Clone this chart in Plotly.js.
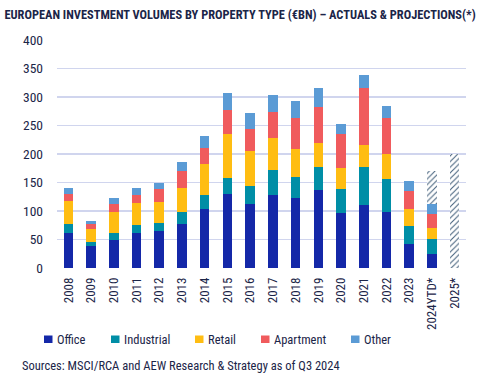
<!DOCTYPE html>
<html><head><meta charset="utf-8">
<script src="https://cdn.plot.ly/plotly-3.0.1.min.js"></script>
<style>html,body{margin:0;padding:0;background:#fff}#chart{width:489px;height:382px}</style>
</head><body><div id="chart"></div>
<script>
const years = ["2008","2009","2010","2011","2012","2013","2014","2015","2016","2017","2018","2019","2020","2021","2022","2023","2024YTD*","2025*"];
const office     = [61,39,50,61,65,77,103,130,112,128,123,137,96,110,98,42,24.5,null];
const industrial = [16,7,12,14,14,21,25,28,32,44,37,40,42,68,58,31.5,26,null];
const retail     = [40.5,23,36,39,37,42,54,77,61,56,49,42,37,37,44,30,19,null];
const apartment  = [13,9,15,14,22,30,28,43,38,46,55,63,60,100,63,32,26,null];
const other      = [9.5,5,10,12,12,16,21,29,29,29,29,33,17,24,21,17.5,16,null];
const projection = [null,null,null,null,null,null,null,null,null,null,null,null,null,null,null,null,58,200];
const seriesNames  = ["Office","Industrial","Retail","Apartment","Other"];
const seriesColors = ["#1428a8","#008ea6","#ffbd12","#f05b5d","#5b9bd5"];
const seriesValues = [office, industrial, retail, apartment, other];

const FONT = "'Roboto Condensed', 'Roboto', sans-serif";
const NAVY = "#1b2548";
// plot area in pixels: left 57, right 466, top 40, bottom 268
const PL = 57, PW = 409, PB = 268, PH = 228;
const px = v => (v - PL) / PW;
const py = v => (PB - v) / PH;

const data = seriesNames.map((n, i) => ({
  type:'bar', name:n, x:years, y:seriesValues[i], showlegend:false, hoverinfo:'skip',
  marker:{color:seriesColors[i], line:{width:0}}
}));
data.push({type:'bar', name:'Projection', x:years, y:projection, showlegend:false, hoverinfo:'skip',
  marker:{color:'#ffffff', line:{width:0}, pattern:{shape:'/', fgcolor:'#4a6680', bgcolor:'#ffffff', size:4, solidity:0.28}}});

// custom legend to match spacing of the original
const legendMarkerX = [44, 111, 195, 261, 351];
const legendTextX   = [55, 121.5, 206, 272, 362];
const shapes = seriesNames.map((n, i) => ({
  type:'rect', xref:'paper', yref:'paper', line:{width:0}, fillcolor:seriesColors[i],
  x0:px(legendMarkerX[i]), x1:px(legendMarkerX[i] + 8.5), y0:py(343), y1:py(335.5)
}));
const annotations = seriesNames.map((n, i) => ({
  xref:'paper', yref:'paper', x:px(legendTextX[i]), xanchor:'left', y:py(339.5), yanchor:'middle',
  showarrow:false, text:n, font:{size:12.5, color:NAVY}
}));
annotations.push({xref:'paper', yref:'paper', x:px(19.5), xanchor:'left', y:py(365), yanchor:'middle', showarrow:false,
  text:'Sources: MSCI/RCA and AEW Research & Strategy as of Q3 2024', font:{size:12.5, color:NAVY}});

const layout = {
  width:489, height:382,
  margin:{l:57, r:23, t:40, b:114},
  barmode:'stack', bargap:0.58,
  paper_bgcolor:'#fff', plot_bgcolor:'#fff',
  font:{family:FONT, color:NAVY, size:12},
  title:{text:'<b>EUROPEAN INVESTMENT VOLUMES BY PROPERTY TYPE (€BN) – ACTUALS & PROJECTIONS(*)</b>', x:0.009, xanchor:'left', y:0.962, yanchor:'middle', font:{family:FONT, size:12.4, color:NAVY}},
  xaxis:{type:'category', tickangle:-90, showgrid:false, zeroline:false, showline:false, ticks:'', tickfont:{size:13, color:NAVY}, ticklabelstandoff:6},
  yaxis:{range:[0,400], dtick:50, showgrid:true, gridcolor:'#d0d5ee', gridwidth:1.5, zeroline:false, showline:false, ticks:'', tickfont:{size:13.5, color:NAVY}, ticklabelstandoff:13},
  showlegend:false,
  shapes:shapes,
  annotations:annotations
};
Plotly.newPlot('chart', data, layout, {displayModeBar:false, staticPlot:true});
</script></body></html>
